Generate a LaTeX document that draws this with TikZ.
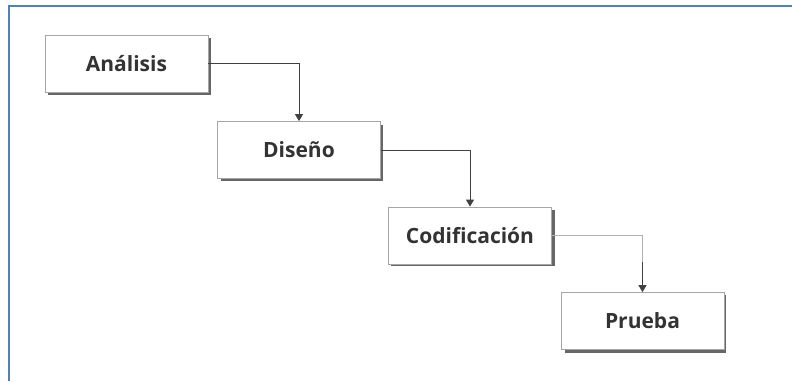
\documentclass[tikz,border=0pt]{standalone}
\usepackage{fontspec}
\setmainfont{Open Sans}
\usetikzlibrary{arrows.meta}
\definecolor{frameblue}{HTML}{4F81BD}
\definecolor{txt}{HTML}{333333}
\begin{document}
\begin{tikzpicture}[x=1pt,y=-1pt,
  phase/.style={draw=black!35, line width=0.8pt, fill=white, minimum width=163pt, minimum height=57pt,
    inner sep=0pt, font=\fontsize{21}{24}\selectfont\bfseries, text=txt},
  shadowbox/.style={fill=black!60},
  link/.style={draw=black!75, line width=0.9pt, -{Triangle[width=8pt,length=7pt]}}
]
\useasboundingbox (0,0) rectangle (792,381);
\fill[white] (0,0) rectangle (792,381);
\draw[frameblue, line width=2.2pt] (9,381) -- (9,6) -- (792,6);

\fill[shadowbox] (47.5,37.5) rectangle (211,95);
\node[phase] (a) at (126.5,63.5) {Análisis};
\fill[shadowbox] (220.5,124.5) rectangle (383,181);
\node[phase] (d) at (299,150) {Diseño};
\fill[shadowbox] (390.5,210) rectangle (555,266);
\node[phase] (c) at (470,235.5) {Codificación};
\fill[shadowbox] (564.5,295) rectangle (726,353);
\node[phase] (p) at (642.5,321) {Prueba};

\coordinate (bend) at ([yshift=30pt]p.north);
\draw[link] (a.east) -| (d.north);
\draw[link] (d.east) -| (c.north);
\draw[draw=black!30, line width=0.9pt] (c.east) -| (bend);
\draw[link] (bend) -- (p.north);
\end{tikzpicture}
\end{document}
